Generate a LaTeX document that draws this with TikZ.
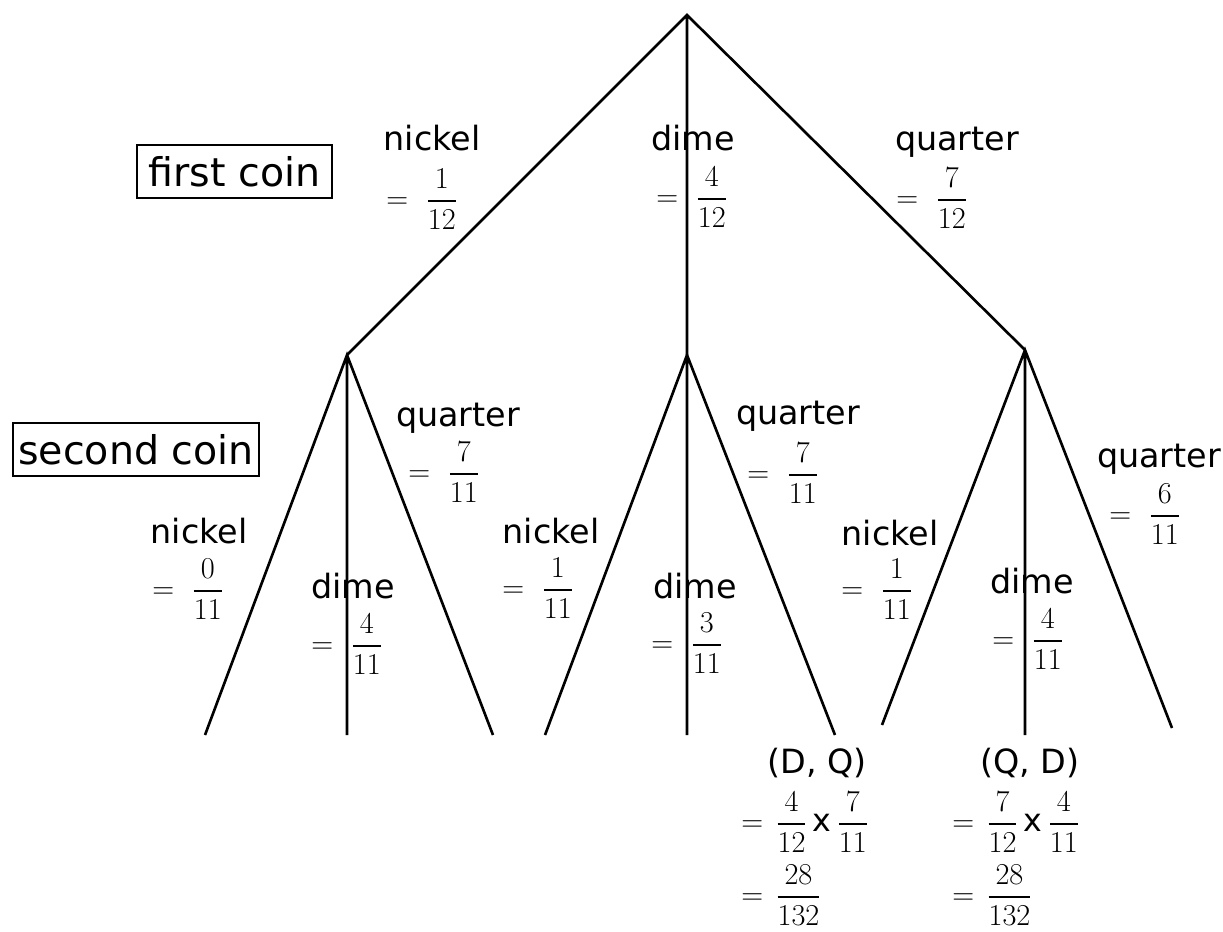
\documentclass[tikz,border=0pt]{standalone}
\usepackage{amsmath}
\usepackage{fontspec}
\setmainfont{DejaVu Sans}
\usepackage{tikz}
\usetikzlibrary{positioning}
\tikzset{
  treeline/.style={line width=1.5pt, draw=black},
  coinbox/.style={draw, line width=1.1pt, inner sep=0pt, minimum height=1.06cm, font=\fontsize{22.5}{26}\selectfont},
  coinname/.style={font=\fontsize{19}{23}\selectfont, inner sep=0pt, anchor=base},
  coinval/.style={font=\fontsize{18}{22}\selectfont, inner sep=0pt, anchor=west},
  pairval/.style={coinval}
}
\newcommand{\prob}[2]{$=$\hspace{10pt}$\dfrac{#1}{#2}$}

\begin{document}
\begin{tikzpicture}[x=0.02cm, y=-0.02cm]
\useasboundingbox (0,0) rectangle (1223,931);
% branch points
\coordinate (root) at (687,15);
\coordinate (a) at (347,355);
\coordinate (b) at (687,355);
\coordinate (c) at (1025,350);
\coordinate (a1) at (205,735);
\coordinate (a2) at (347,735);
\coordinate (a3) at (493,735);
\coordinate (b1) at (545,735);
\coordinate (b2) at (687,735);
\coordinate (b3) at (835,735);
\coordinate (c1) at (882,725);
\coordinate (c2) at (1025,735);
\coordinate (c3) at (1172,728);
\draw[treeline] (a) -- (root) -- (c) (root) -- (b);
\draw[treeline] (a1) -- (a) -- (a3) (a) -- (a2);
\draw[treeline] (b1) -- (b) -- (b3) (b) -- (b2);
\draw[treeline] (c1) -- (c) -- (c3) (c) -- (c2);
% level names
\node[coinbox, minimum width=3.9cm] (first) at (234.5,171.5) {first coin};
\node[coinbox, minimum width=4.92cm] (second) at (136,449.5) {second coin};
% first coin
\node[coinname] (nk) at (432,150) {nickel};
\node[coinval] (nkv) at (386,199) {\prob{1}{12}};
\node[coinname] (dm) at (693,150) {dime};
\node[coinval] (dmv) at (656,197) {\prob{4}{12}};
\node[coinname] (qt) at (957,150) {quarter};
\node[coinval] (qtv) at (896,198) {\prob{7}{12}};
% second coin after a nickel
\node[coinname] (ank) at (199,543) {nickel};
\node[coinval] (ankv) at (152,589) {\prob{0}{11}};
\node[coinname] (adm) at (353,598) {dime};
\node[coinval] (admv) at (311,644) {\prob{4}{11}};
\node[coinname] (aqt) at (458,426) {quarter};
\node[coinval] (aqtv) at (408,472) {\prob{7}{11}};
% second coin after a dime
\node[coinname] (bnk) at (551,543) {nickel};
\node[coinval] (bnkv) at (502,588) {\prob{1}{11}};
\node[coinname] (bdm) at (695,598) {dime};
\node[coinval] (bdmv) at (651,643) {\prob{3}{11}};
\node[coinname] (bqt) at (798,424) {quarter};
\node[coinval] (bqtv) at (747,473) {\prob{7}{11}};
% second coin after a quarter
\node[coinname] (cnk) at (890,545) {nickel};
\node[coinval] (cnkv) at (841,589) {\prob{1}{11}};
\node[coinname] (cdm) at (1032,593) {dime};
\node[coinval] (cdmv) at (992,639) {\prob{4}{11}};
\node[coinname] (cqt) at (1159,467) {quarter};
\node[coinval] (cqtv) at (1109,514) {\prob{6}{11}};
% outcomes
\node[coinname] (dq) at (817,773) {(D, Q)};
\node[pairval] (dqa) at (741,822) {$=$\hspace{7pt}$\dfrac{4}{12}$\,x\,$\dfrac{7}{11}$};
\node[pairval] (dqb) at (741,895) {$=$\hspace{7pt}$\dfrac{28}{132}$};
\node[coinname] (qd) at (1030,773) {(Q, D)};
\node[pairval] (qda) at (952,822) {$=$\hspace{7pt}$\dfrac{7}{12}$\,x\,$\dfrac{4}{11}$};
\node[pairval] (qdb) at (952,895) {$=$\hspace{7pt}$\dfrac{28}{132}$};
\end{tikzpicture}
\end{document}
